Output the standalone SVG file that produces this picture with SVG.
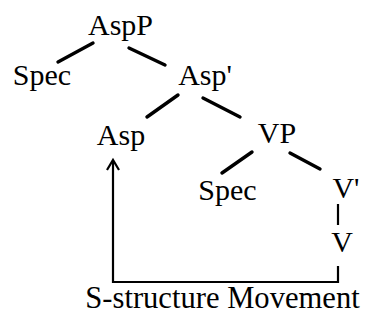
<svg xmlns="http://www.w3.org/2000/svg" width="365" height="324" viewBox="0 0 365 324">
  <style>
    .lbl { font-family: "Liberation Serif", "Times New Roman", serif; font-size: 30px; fill: #000; text-anchor: middle; }
    .cap { font-size: 30.6px; }
    .edge { stroke: #000; stroke-width: 3.4; stroke-linecap: round; fill: none; }
    .move { stroke: #000; stroke-width: 2.2; fill: none; }
  </style>
  <rect width="365" height="324" fill="#fff"/>
  <g id="connectors">
    <line class="edge" x1="93" y1="43" x2="58" y2="62"/>
    <line class="edge" x1="129" y1="48" x2="165" y2="65"/>
    <line class="edge" x1="178" y1="95" x2="147" y2="117"/>
    <line class="edge" x1="203" y1="98" x2="240" y2="117"/>
    <line class="edge" x1="252" y1="152" x2="222" y2="173"/>
    <line class="edge" x1="290" y1="153" x2="320" y2="169"/>
    <line class="move" x1="338" y1="204" x2="338" y2="225"/>
    <path class="move" d="M338,266 V282 H113 V161"/>
    <polyline class="move" points="107,170 113,160 119,170"/>
  </g>
  <g id="node-aspp"><text class="lbl" x="120.5" y="35">AspP</text></g>
  <g id="node-spec1"><text class="lbl" x="42" y="85">Spec</text></g>
  <g id="node-aspbar"><text class="lbl" x="205" y="85">Asp'</text></g>
  <g id="node-asp"><text class="lbl" x="121" y="145">Asp</text></g>
  <g id="node-vp"><text class="lbl" x="277" y="143">VP</text></g>
  <g id="node-spec2"><text class="lbl" x="227.5" y="200">Spec</text></g>
  <g id="node-vbar"><text class="lbl" x="346" y="198">V'</text></g>
  <g id="node-v"><text class="lbl" x="342" y="252">V</text></g>
  <g id="caption"><text class="lbl cap" x="222.5" y="308">S-structure Movement</text></g>
</svg>
